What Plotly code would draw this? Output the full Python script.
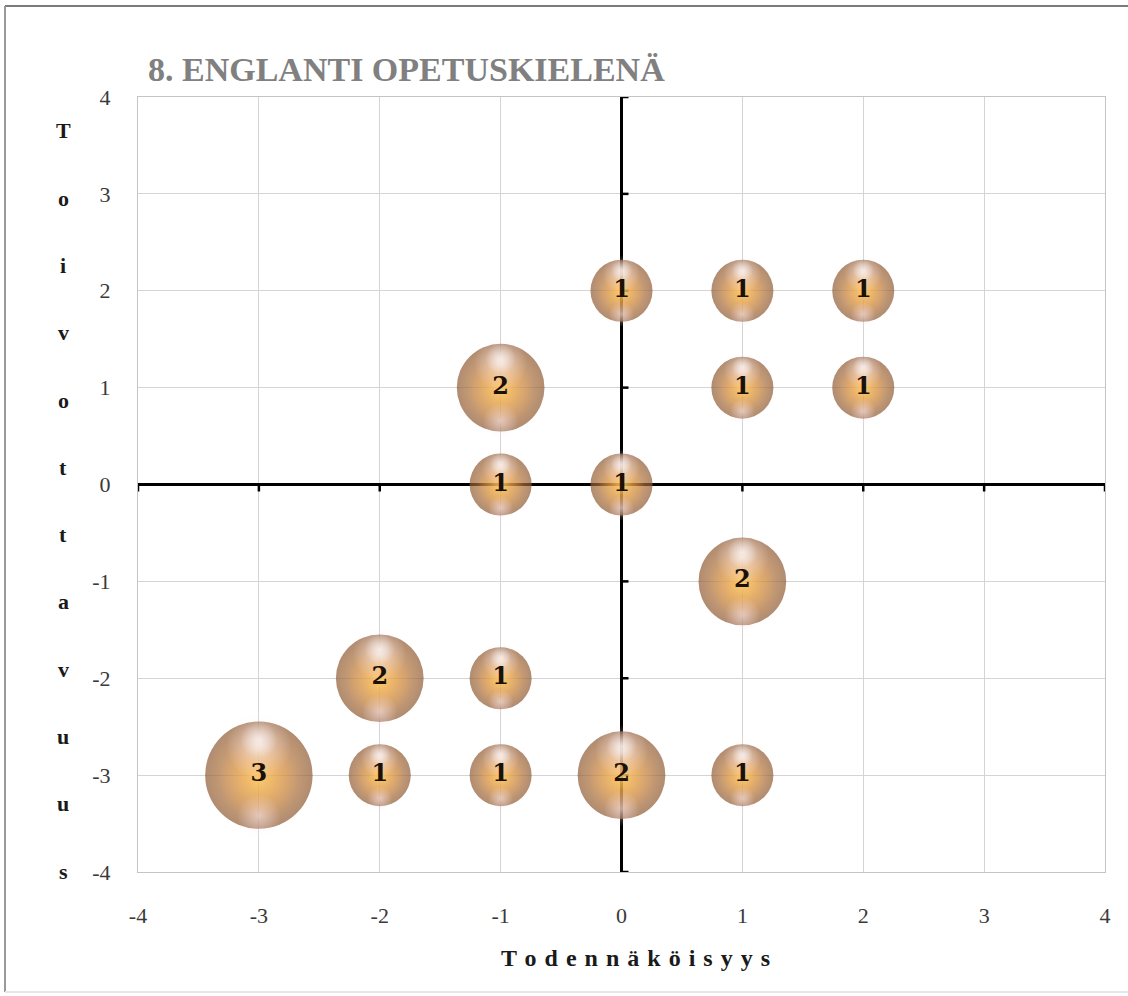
import numpy as np
import plotly.graph_objects as go

# Data
todennakoisyys = [0, 1, 2, -1, 1, 2, -1, 0, 1, -2, -1, -3, -2, -1, 0, 1]
toivottavuus   = [2, 2, 2, 1, 1, 1, 0, 0, -1, -2, -2, -3, -3, -3, -3, -3]
lukumaara      = [1, 1, 1, 2, 1, 1, 1, 1, 2, 2, 1, 3, 1, 1, 2, 1]
tick_vals = [-4, -3, -2, -1, 0, 1, 2, 3, 4]
title_text = "8. ENGLANTI OPETUSKIELENÄ"
x_title = "Todennäköisyys"
y_title = "Toivottavuus"

W, H = 1128, 996
L, R, T, B = 138, 23, 97, 124
plot_w = W - L - R
plot_h = H - T - B
px_per_y = plot_h / 8.0

base_d = 62.0
x = np.array(todennakoisyys, dtype=float)
y = np.array(toivottavuus, dtype=float)
n = np.array(lukumaara, dtype=float)
diam = base_d * np.sqrt(n)


def layer(size_f, dy_f, edge, center):
    return go.Scatter(
        x=x, y=y + (diam * dy_f) / px_per_y, mode="markers",
        marker=dict(size=diam * size_f, color=edge,
                    gradient=dict(type="radial", color=center),
                    line=dict(width=0)),
        hoverinfo="skip", showlegend=False)


fig = go.Figure()
# base sphere
fig.add_trace(layer(1.0, 0.0, "#8e5a34", "#f5a444"))
# inner warm glow
fig.add_trace(layer(0.74, -0.04, "rgba(240,160,70,0.02)", "rgba(255,208,95,0.9)"))
# top highlight (soft)
fig.add_trace(layer(0.6, 0.27, "rgba(250,230,240,0.02)", "rgba(255,246,250,0.9)"))
# top highlight (core)
fig.add_trace(layer(0.34, 0.33, "rgba(255,250,252,0.02)", "rgba(255,252,253,0.95)"))
# bottom reflection
fig.add_trace(layer(0.4, -0.38, "rgba(255,228,238,0.02)", "rgba(255,238,245,0.8)"))
# labels
fig.add_trace(go.Scatter(
    x=x, y=y, mode="text", text=[str(v) for v in lukumaara],
    textposition="middle center",
    textfont=dict(family="DejaVu Serif", size=24, color="#1a1208", weight="bold"),
    hoverinfo="skip", showlegend=False))

axis_common = dict(
    range=[-4, 4], tickvals=tick_vals, ticktext=[str(v) for v in tick_vals],
    showgrid=True, gridcolor="#d4d4d4", gridwidth=1,
    zeroline=True, zerolinecolor="#000000", zerolinewidth=2.5,
    showline=True, linecolor="#c4c4c4", linewidth=1, mirror=True,
    ticks="outside", tickcolor="rgba(0,0,0,0)",
    tickfont=dict(family="Liberation Serif", size=22, color="#3a3a3a"),
    fixedrange=True,
)
fig.update_xaxes(**axis_common, ticklen=24)
fig.update_yaxes(**axis_common, ticklen=22)

shapes = []
# axis tick marks on the zero lines (beneath the bubbles)
for t in tick_vals:
    shapes.append(dict(type="line", xref="x", yref="y", xsizemode="pixel", xanchor=0,
                       x0=0, x1=7, y0=t, y1=t, line=dict(color="#000", width=2.5),
                       layer="between"))
    shapes.append(dict(type="line", xref="x", yref="y", ysizemode="pixel", yanchor=0,
                       y0=0, y1=-7, x0=t, x1=t, line=dict(color="#000", width=2.5),
                       layer="between"))


def px2x(px):
    return (px - L) / plot_w


def px2y(py):
    return 1 - (py - T) / plot_h


# outer frame (top, left, faint bottom)
shapes.append(dict(type="line", xref="paper", yref="paper",
                   x0=px2x(5), x1=px2x(W), y0=px2y(6), y1=px2y(6),
                   line=dict(color="#7a7a7a", width=2), layer="below"))
shapes.append(dict(type="line", xref="paper", yref="paper",
                   x0=px2x(5), x1=px2x(5), y0=px2y(6), y1=px2y(992),
                   line=dict(color="#9a9a9a", width=2), layer="below"))
shapes.append(dict(type="line", xref="paper", yref="paper",
                   x0=px2x(5), x1=px2x(W), y0=px2y(992), y1=px2y(992),
                   line=dict(color="#e6e6e6", width=2), layer="below"))

annotations = [dict(
    text=title_text, xref="paper", yref="paper",
    x=px2x(146), y=px2y(70),
    xanchor="left", yanchor="middle", showarrow=False,
    font=dict(family="Liberation Serif", size=34, color="#808080", weight="bold"))]

# x-axis title (letter spaced)
annotations.append(dict(
    text=" \u200a".join(x_title), xref="paper", yref="paper",
    x=px2x(635), y=px2y(958), xanchor="center", yanchor="middle",
    showarrow=False,
    font=dict(family="Liberation Serif", size=24, color="#1a1a1a", weight="bold")))

# y-axis title: stacked letters
top_c, bot_c = 131, 871
for i, ch in enumerate(y_title):
    py = top_c + (bot_c - top_c) * i / (len(y_title) - 1)
    annotations.append(dict(
        text=ch.lower() if i > 0 else ch, xref="paper", yref="paper",
        x=px2x(63), y=px2y(py),
        xanchor="center", yanchor="middle", showarrow=False,
        font=dict(family="Liberation Serif", size=22, color="#1a1a1a", weight="bold")))

fig.update_layout(
    width=W, height=H,
    margin=dict(l=L, r=R, t=T, b=B),
    paper_bgcolor="#ffffff", plot_bgcolor="#ffffff",
    shapes=shapes, annotations=annotations,
    showlegend=False,
)

fig.write_html("out.html", config={"displayModeBar": False},
               post_script="document.body.style.margin='0';document.body.style.overflow='hidden';")
